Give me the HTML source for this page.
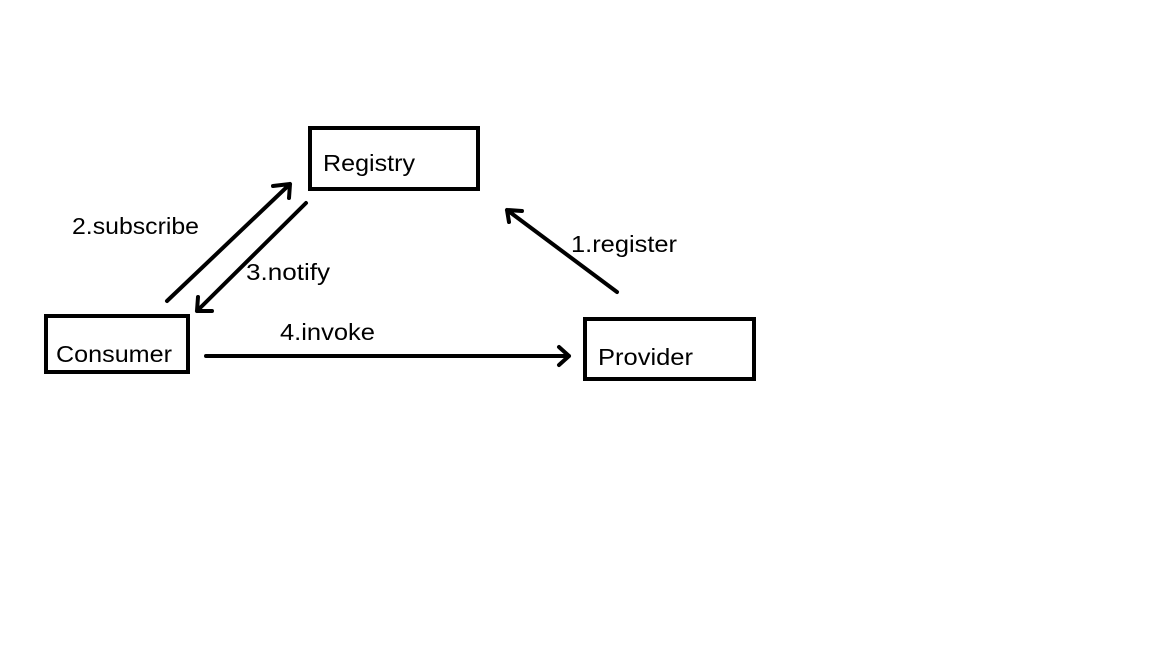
<!DOCTYPE html>
<html><head><meta charset="utf-8"><style>html,body{margin:0;padding:0;background:#fff}</style></head>
<body>
<svg width="1152" height="648" viewBox="0 0 1152 648" xmlns="http://www.w3.org/2000/svg" style="display:block">
<rect width="1152" height="648" fill="#fff"/>
<g fill="none" stroke="#000" stroke-width="4">
<rect x="310" y="128" width="168" height="61"/>
<rect x="46" y="316" width="142" height="56"/>
<rect x="585" y="319" width="169" height="60"/>
</g>
<g fill="none" stroke="#000" stroke-width="4" stroke-linecap="round" stroke-linejoin="round">
<path d="M167 301 L290 184 M273 186 L290 184 L289 198"/>
<path d="M306 203 L197 311 M198 297 L197 311 L212 311"/>
<path d="M206 356 L569 356 M559 347 L569 356 L559 365"/>
<path d="M617 292 L507 210 M522 211 L507 210 L509 222"/>
</g>
<g font-family="Liberation Sans, sans-serif" font-size="23" fill="#000" lengthAdjust="spacingAndGlyphs">
<text x="323" y="171" textLength="92" lengthAdjust="spacingAndGlyphs">Registry</text>
<text x="56" y="362" textLength="116" lengthAdjust="spacingAndGlyphs">Consumer</text>
<text x="598" y="365" textLength="95" lengthAdjust="spacingAndGlyphs">Provider</text>
<text x="72" y="234" textLength="127" lengthAdjust="spacingAndGlyphs">2.subscribe</text>
<text x="246" y="280" textLength="84" lengthAdjust="spacingAndGlyphs">3.notify</text>
<text x="280" y="340" textLength="95" lengthAdjust="spacingAndGlyphs">4.invoke</text>
<text x="571" y="252" textLength="106" lengthAdjust="spacingAndGlyphs">1.register</text>
</g>
</svg>
</body></html>
